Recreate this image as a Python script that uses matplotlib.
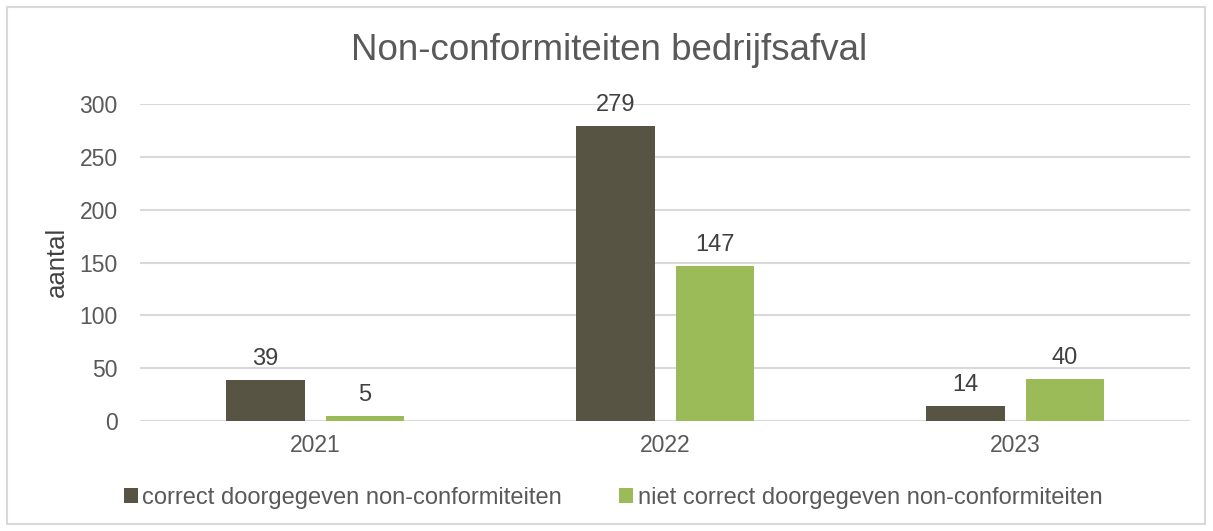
import matplotlib.pyplot as plt
import numpy as np
from matplotlib.patches import Rectangle

# data
years = ['2021', '2022', '2023']
correct = [39, 279, 14]
niet_correct = [5, 147, 40]
series_names = ['correct doorgegeven non-conformiteiten',
                'niet correct doorgegeven non-conformiteiten']

plt.rcParams['font.family'] = ['Liberation Sans', 'DejaVu Sans']
text_col = '#595959'
grid_col = '#d9d9d9'
dark = '#585443'
green = '#9bbb59'

fig = plt.figure(figsize=(12.13, 5.31), dpi=100)
fig.patch.set_facecolor('w')
# outer chart border
fig.patches.append(Rectangle((7 / 1213, 7 / 531), 1198 / 1213, 517 / 531,
                             transform=fig.transFigure, fill=False,
                             edgecolor=grid_col, linewidth=1.5))

ax = fig.add_axes([140 / 1213, 1 - 421 / 531, 1050 / 1213, 317 / 531])
x = np.arange(len(years))
w = 0.223
off = 0.1415
b1 = ax.bar(x - off, correct, w, color=dark, label=series_names[0], zorder=3)
b2 = ax.bar(x + off, niet_correct, w, color=green, label=series_names[1], zorder=3)

for bars, vals in ((b1, correct), (b2, niet_correct)):
    for r, v in zip(bars, vals):
        ax.annotate(str(v), (r.get_x() + r.get_width() / 2, v),
                    xytext=(0, 7), textcoords='offset points',
                    ha='center', va='bottom', fontsize=17, color='#404040')

ax.set_xlim(-0.5, 2.5)
ax.set_ylim(0, 300)
ax.set_yticks(range(0, 301, 50))
ax.set_xticks(x)
ax.set_xticklabels(years)
ax.grid(axis='y', color=grid_col, linewidth=1.5, zorder=0)
for s in ax.spines.values():
    s.set_visible(False)
ax.axhline(0, color=grid_col, linewidth=1.5, zorder=2)
ax.tick_params(axis='both', length=0, labelsize=16.5, labelcolor=text_col)
ax.tick_params(axis='y', pad=16)
ax.tick_params(axis='x', pad=9)

fig.text(57 / 1213, 1 - 262 / 531, 'aantal', rotation=90, ha='center',
         va='center', fontsize=18.5, color='#404040')

fig.text(609 / 1213, 1 - 50 / 531, 'Non-conformiteiten bedrijfsafval', ha='center',
         va='center', fontsize=26.5, color=text_col)

fig.legend(handles=[b1, b2], loc='center', bbox_to_anchor=(613 / 1213, 1 - 498 / 531),
           ncol=2, frameon=False, fontsize=17, labelcolor=text_col,
           handlelength=0.6, handleheight=0.6, handletextpad=0.2,
           columnspacing=2.4, borderpad=0, borderaxespad=0)

fig.savefig('out.png', dpi=100)
